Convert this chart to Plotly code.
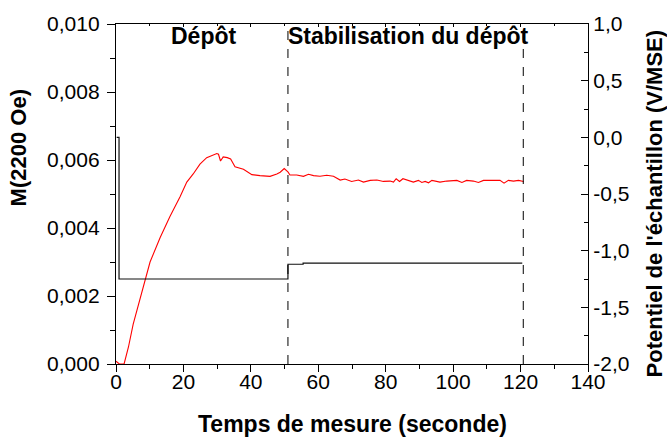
import plotly.graph_objects as go

# Magnetisation M(2200 Oe) during deposition and stabilisation
time_m = [0.0, 0.5, 1.0, 2.4, 3.7, 5.1, 8.6, 10.1, 13.1, 16.0,
          19.0, 21.0, 22.9, 24.9, 26.9, 28.9, 29.9, 30.4, 31.0, 31.8,
          33.0, 34.0, 35.3, 37.8, 40.3, 42.7, 45.7, 47.7, 48.7, 49.9,
          51.0, 51.6, 53.6, 55.6, 57.1, 58.6, 60.5, 62.5, 64.5, 66.5,
          67.9, 69.9, 71.9, 73.4, 75.4, 77.4, 79.3, 81.3, 82.3, 83.1,
          84.1, 85.1, 86.7, 88.2, 89.7, 90.7, 91.7, 92.7, 93.7, 96.1,
          98.1, 101.1, 102.6, 104.0, 106.0, 107.5, 109.0, 112.0, 113.9, 115.1,
          116.4, 117.9, 119.4, 120.9]
m_values = [0.00008, 0.00003, 0.0, 0.0, 0.0005, 0.00117, 0.00248, 0.0030, 0.00372, 0.00434,
            0.00492, 0.00535, 0.00559, 0.00588, 0.00607, 0.00614, 0.00619, 0.00617, 0.00597, 0.00609,
            0.00607, 0.00603, 0.00580, 0.00573, 0.00557, 0.00554, 0.00552, 0.00559, 0.00564, 0.00575,
            0.00565, 0.00556, 0.00556, 0.00552, 0.00558, 0.00554, 0.00552, 0.00555, 0.00552, 0.00541,
            0.00544, 0.00537, 0.00541, 0.00535, 0.00540, 0.00541, 0.00537, 0.00538, 0.00535, 0.00545,
            0.00537, 0.00545, 0.00540, 0.00535, 0.00540, 0.00534, 0.00537, 0.00533, 0.00540, 0.00535,
            0.00538, 0.00540, 0.00534, 0.00540, 0.00538, 0.00534, 0.00540, 0.00540, 0.00540, 0.00532,
            0.00540, 0.00538, 0.00540, 0.00537]

# Applied sample potential (V/MSE)
time_v = [0.2, 0.9, 0.9, 51.0, 51.0, 55.5, 55.5, 120.5]
potential = [0.0, 0.0, -1.25, -1.25, -1.12, -1.12, -1.11, -1.11]

# Boundaries of the deposition / stabilisation phases
phase_bounds = [51.0, 120.8]
phase_names = ["Dépôt", "Stabilisation du dépôt"]
phase_label_x = [0.186, 0.62]

left_ticks = [0.000, 0.002, 0.004, 0.006, 0.008, 0.010]
left_labels = ["0,000", "0,002", "0,004", "0,006", "0,008", "0,010"]
right_ticks = [-2.0, -1.5, -1.0, -0.5, 0.0, 0.5, 1.0]
right_labels = ["-2,0", "-1,5", "-1,0", "-0,5", "0,0", "0,5", "1,0"]
x_ticks = [0, 20, 40, 60, 80, 100, 120, 140]

FONT = "Liberation Sans, Arial, sans-serif"

fig = go.Figure()
fig.add_trace(go.Scatter(x=time_m, y=m_values, mode="lines",
                         line=dict(color="#ff0000", width=1.1),
                         yaxis="y", xaxis="x", showlegend=False))
fig.add_trace(go.Scatter(x=time_v, y=potential, mode="lines",
                         line=dict(color="#111111", width=1.2),
                         yaxis="y2", xaxis="x", showlegend=False))

shapes = []
for xb in phase_bounds:
    shapes.append(dict(type="line", xref="x", yref="paper", x0=xb, x1=xb, y0=0, y1=1,
                       line=dict(color="black", width=1, dash="dash")))

annotations = []
for name, px in zip(phase_names, phase_label_x):
    annotations.append(dict(text="<b>%s</b>" % name, xref="paper", yref="paper",
                            x=px, y=0.965, xanchor="center", yanchor="middle",
                            showarrow=False,
                            font=dict(family=FONT, size=23, color="black")))
annotations += [
    dict(text="<b>M(2200 Oe)</b>", xref="paper", yref="paper", x=-0.207, y=0.635,
         xanchor="center", yanchor="middle",
         textangle=-90, showarrow=False, font=dict(family=FONT, size=22, color="black")),
    dict(text="<b>Potentiel de l'échantillon (V/MSE)</b>", xref="paper", yref="paper",
         x=1.140, y=0.4726, xanchor="center", yanchor="middle", textangle=-90, showarrow=False,
         font=dict(family=FONT, size=22, color="black")),
    dict(text="<b>Temps de mesure (seconde)</b>", xref="paper", yref="paper",
         x=0.5, y=-0.176, xanchor="center", yanchor="middle", showarrow=False,
         font=dict(family=FONT, size=23, color="black")),
]

fig.update_layout(
    width=667, height=441,
    margin=dict(l=116, r=79, t=17, b=77),
    paper_bgcolor="white", plot_bgcolor="white",
    font=dict(family=FONT, size=21, color="black"),
    shapes=shapes, annotations=annotations,
    xaxis=dict(range=[0, 140], tickvals=x_ticks, ticks="outside", ticklen=7, tickwidth=1.2,
               showline=True, linecolor="black", linewidth=1.3, showgrid=False, zeroline=False,
               minor=dict(dtick=10, tick0=0, ticks="outside", ticklen=4, tickwidth=1.2,
                          tickcolor="black", showgrid=False),
               tickcolor="black", tickfont=dict(size=21), ticklabelstandoff=-8),
    xaxis2=dict(range=[0, 140], overlaying="x", side="top", showticklabels=False,
                tickvals=x_ticks, ticks="inside", ticklen=3, tickcolor="black",
                showline=True, linecolor="black", linewidth=1.3, showgrid=False, zeroline=False,
                minor=dict(dtick=10, tick0=0, ticks="inside", ticklen=2, tickcolor="black")),
    yaxis=dict(range=[0, 0.010], tickvals=left_ticks, ticktext=left_labels,
               ticks="outside", ticklen=8, tickwidth=1.2, tickcolor="black",
               showline=True, linecolor="black", linewidth=1.3, showgrid=False, zeroline=False,
               minor=dict(dtick=0.001, tick0=0, ticks="outside", ticklen=5, tickwidth=1.2,
                          tickcolor="black", showgrid=False),
               tickfont=dict(size=21), ticklabelstandoff=3),
    yaxis2=dict(range=[-2, 1], overlaying="y", side="right", anchor="x",
                tickvals=right_ticks, ticktext=right_labels,
                ticks="inside", ticklen=7, tickwidth=1.2, tickcolor="black",
                showline=True, linecolor="black", linewidth=1.3, showgrid=False, zeroline=False,
                minor=dict(dtick=0.25, tick0=0, ticks="inside", ticklen=4, tickwidth=1.2,
                           tickcolor="black", showgrid=False),
                tickfont=dict(size=21)),
)
# Invisible trace to activate the top mirrored axis
fig.add_trace(go.Scatter(x=[0], y=[0], xaxis="x2", yaxis="y", mode="markers",
                         marker=dict(opacity=0), showlegend=False, hoverinfo="skip"))

fig.write_html("out.html")
